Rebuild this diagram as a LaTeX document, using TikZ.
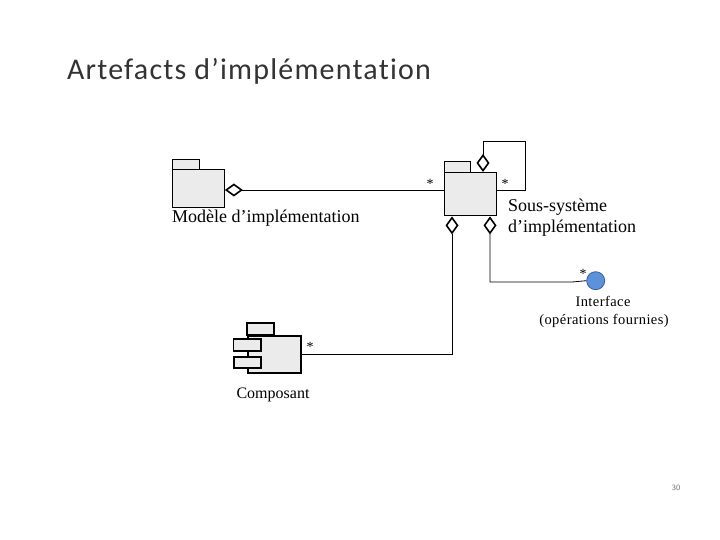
\documentclass[tikz,border=0pt]{standalone}
\usepackage{fontspec}
\setmainfont{Liberation Serif}
\newfontfamily\titlefont[LetterSpace=4,Ligatures=NoCommon]{Carlito}
\usetikzlibrary{arrows.meta,calc}
\definecolor{boxfill}{RGB}{235,235,235}
\definecolor{ifill}{RGB}{92,146,218}
\definecolor{idraw}{RGB}{55,95,160}
\tikzset{
  pkgbody/.style={draw=black,line width=0.9pt,fill=boxfill,inner sep=0pt},
  compbox/.style={draw=black,line width=1.8pt,fill=boxfill,inner sep=0pt},
  conn/.style={draw=black,line width=0.8pt},
  agg/.style={conn,{Diamond[open,length=18pt,width=13pt,line width=1.6pt]}-},
  lbl/.style={font=\fontsize{18}{21}\selectfont,inner sep=0pt},
  smalllbl/.style={font=\fontsize{14.5}{17}\selectfont\addfontfeatures{LetterSpace=3},inner sep=0pt},
  mult/.style={font=\fontsize{14}{14}\selectfont,inner sep=0pt}
}
\begin{document}
\begin{tikzpicture}[x=1pt,y=-1pt]
\useasboundingbox[fill=white] (0,0) rectangle (720,540);
% title
\node[anchor=base west,inner sep=0pt,font=\titlefont\fontsize{30}{34}\selectfont,text=black!80] (title) at (67,79.5) {Artefacts d’implémentation};

% package 1
\draw[pkgbody] (172,159) rectangle (199,169);
\node[pkgbody,minimum width=52pt,minimum height=38pt,anchor=north west] (p1) at (172,169) {};
\node[lbl,anchor=west] (p1lbl) at (172,218) {Modèle d’implémentation};

% package 2
\draw[pkgbody] (444,161) rectangle (470,172);
\node[pkgbody,minimum width=52pt,minimum height=43.5pt,anchor=north west] (p2) at (444,172) {};
\node[lbl,anchor=west] (p2lbl) at (508,207) {Sous-système};
\node[lbl,anchor=west] (p2lbl2) at (508,228) {d’implémentation};

% component
\node[compbox,minimum width=52.7pt,minimum height=36.7pt,anchor=north west] (comp) at (247.3,335) {};
\draw[compbox] (247.3,323) rectangle (274,335);
\draw[compbox] (233.5,339) rectangle (260.7,350.7);
\draw[compbox] (234,356.7) rectangle (261,368);
\node[font=\fontsize{16}{18}\selectfont,inner sep=0pt] (complbl) at (273,395) {Composant};

% interface
\node[circle,draw=idraw,fill=ifill,line width=0.8pt,minimum size=18pt,inner sep=0pt] (iface) at (595.7,280.7) {};
\node[smalllbl] (ilbl1) at (603,301) {Interface};
\node[smalllbl] (ilbl2) at (604,321) {(opérations fournies)};

% connectors
\coordinate (a1) at (p1.east |- 0,190);
\coordinate (a2) at (p2.west |- 0,190);
\draw[agg] (a1) -- (a2);
\node[mult] (m1) at (430,184) {*};

\coordinate (s1) at (p2.north -| 483,0);
\coordinate (s2) at (p2.east |- 0,190);
\draw[agg] (s1) -- (483,141) -- (525,141) -- (525,190) -- (s2);
\node[mult] (m2) at (505,184) {*};

\coordinate (b1) at (p2.south -| 452,0);
\coordinate (c1) at (comp.east |- 0,354);
\draw[agg] (b1) -- (452,354) -- (c1);
\node[mult] (m3) at (310,347) {*};

\coordinate (b2) at (p2.south -| 490,0);
\draw[agg] (b2) -- (490,282) -- (572,282) -- (iface.west);
\node[mult] (m4) at (583,274) {*};

% page number
\node[font=\sffamily\fontsize{8}{8}\selectfont,text=black!55,inner sep=0pt] (pg) at (676,488) {30};
\end{tikzpicture}
\end{document}
